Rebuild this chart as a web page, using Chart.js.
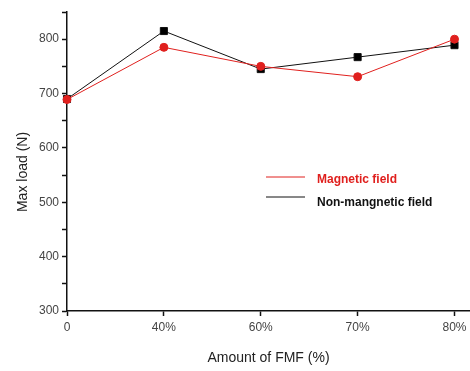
<!DOCTYPE html>
<html>
<head>
<meta charset="utf-8">
<script src="https://cdn.jsdelivr.net/npm/chart.js@4/dist/chart.umd.min.js"></script>
<style>
  html, body { margin: 0; padding: 0; background: #fff; }
  #wrap { width: 470px; height: 371px; }
</style>
</head>
<body>
<div id="wrap"><canvas id="chart" width="470" height="371"></canvas></div>
<script>
// amounts of FMF on the x axis
const categories = ['0', '40%', '60%', '70%', '80%'];
const magneticLoad = [689, 785, 750, 731, 800];
const nonMagneticLoad = [690, 815, 745, 767, 789];
const yTicks = [300, 400, 500, 600, 700, 800];

const FONT = 'Liberation Sans, Arial, sans-serif';
const RED = '#e0201e';

// legend inside the plot + y title, placed like the original figure
const overlay = {
  id: 'overlay',
  afterDraw(chart) {
    const ctx = chart.ctx;
    const rows = [
      { text: 'Magnetic field', color: RED, lineY: 177, textY: 180 },
      { text: 'Non-mangnetic field', color: '#111', lineY: 197, textY: 203 }
    ];
    ctx.save();
    ctx.font = 'bold 12px ' + FONT;
    ctx.textBaseline = 'middle';
    ctx.lineWidth = 1;
    for (const r of rows) {
      ctx.strokeStyle = r.color;
      ctx.beginPath();
      ctx.moveTo(266, r.lineY);
      ctx.lineTo(305, r.lineY);
      ctx.stroke();
      ctx.fillStyle = r.color;
      ctx.fillText(r.text, 317, r.textY);
    }

    ctx.translate(23, 172);
    ctx.rotate(-Math.PI / 2);
    ctx.font = '14px ' + FONT;
    ctx.textAlign = 'center';
    ctx.fillStyle = '#222';
    ctx.fillText('Max load (N)', 0, 0);
    ctx.restore();
  }
};

new Chart(document.getElementById('chart'), {
  type: 'line',
  data: {
    datasets: [
      {
        label: 'Magnetic field',
        data: magneticLoad.map((v, i) => ({ x: i, y: v })),
        borderColor: RED,
        backgroundColor: RED,
        borderWidth: 1,
        pointStyle: 'circle',
        pointRadius: 4,
        tension: 0
      },
      {
        label: 'Non-mangnetic field',
        data: nonMagneticLoad.map((v, i) => ({ x: i, y: v })),
        borderColor: '#111',
        backgroundColor: '#000',
        borderWidth: 1,
        pointStyle: 'rect',
        pointRadius: 5,
        tension: 0
      }
    ]
  },
  options: {
    responsive: false,
    animation: false,
    clip: false,
    layout: { autoPadding: false, padding: { left: 0, right: 0, top: 12, bottom: 0 } },
    plugins: { legend: { display: false }, tooltip: { enabled: false } },
    scales: {
      x: {
        type: 'linear',
        min: 0,
        max: 4.16,
        afterFit: (s) => { s.height = 60; s.paddingLeft = 0; s.paddingRight = 0; },
        afterBuildTicks: (s) => { s.ticks = categories.map((_, i) => ({ value: i })); },
        ticks: {
          callback: (v) => categories[v] ?? '',
          color: '#444',
          font: { family: FONT, size: 12 },
          padding: 4,
          maxRotation: 0
        },
        grid: { drawOnChartArea: false, tickLength: 5, color: '#111', tickWidth: 1.5 },
        border: { color: '#111', width: 1.5 },
        title: {
          display: true,
          text: 'Amount of FMF (%)',
          color: '#222',
          font: { family: FONT, size: 14 },
          padding: { top: 11 }
        }
      },
      y: {
        min: 300,
        max: 850,
        afterFit: (s) => { s.width = 67; s.paddingTop = 0; s.paddingBottom = 0; },
        ticks: {
          stepSize: 50,
          callback: (v) => yTicks.includes(v) ? String(v) : '',
          color: '#444',
          font: { family: FONT, size: 12 },
          padding: 3
        },
        grid: { drawOnChartArea: false, tickLength: 5, color: '#111', tickWidth: 1.5 },
        border: { color: '#111', width: 1.5 }
      }
    }
  },
  plugins: [overlay]
});
</script>
</body>
</html>
